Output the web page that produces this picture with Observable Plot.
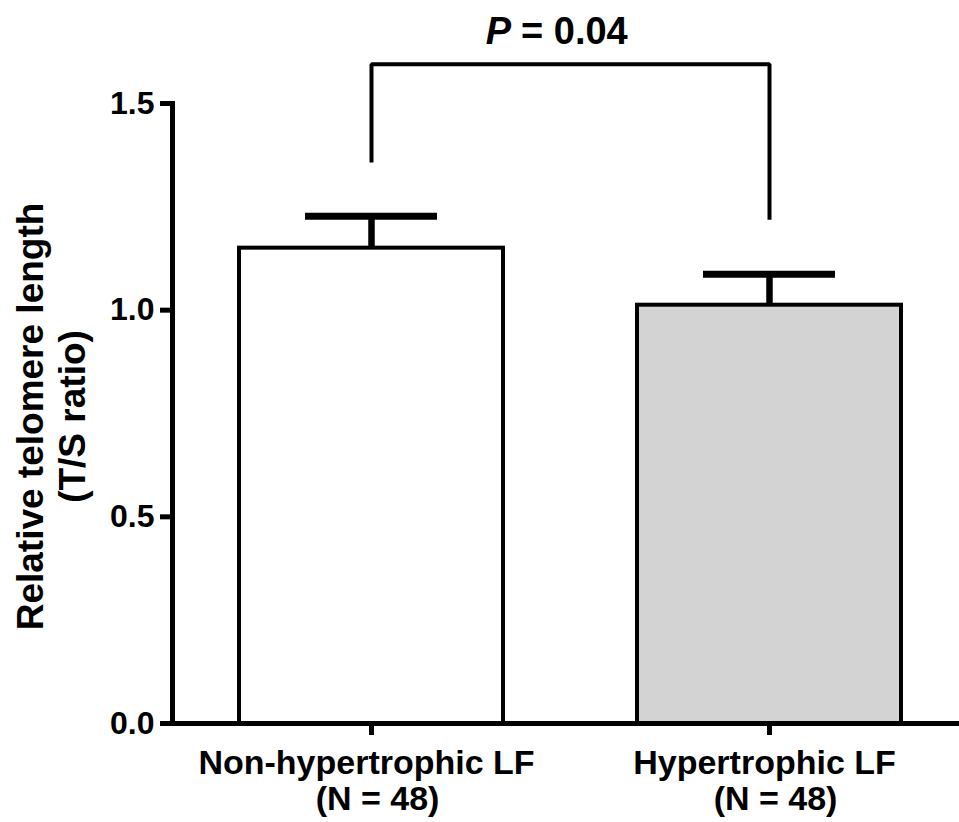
<!DOCTYPE html>
<html>
<head>
<meta charset="utf-8">
<script src="https://cdn.jsdelivr.net/npm/d3@7"></script>
<script src="https://cdn.jsdelivr.net/npm/@observablehq/plot@0.6"></script>
<style>
  html, body { margin: 0; padding: 0; background: #fff; }
  svg { display: block; }
</style>
</head>
<body>
<div id="chart"></div>
<script>
const groups = ["Non-hypertrophic LF", "Hypertrophic LF"];
const groupN = ["(N = 48)", "(N = 48)"];
const means = [1.15, 1.012];
const upper = [1.227, 1.087];
const fills = ["#ffffff", "#d3d3d3"];
const yTicks = [0, 0.5, 1.0, 1.5];
const bracketX = [groups[0], groups[0], groups[1], groups[1]];
const bracketY = [1.357, 1.595, 1.595, 1.219];
const pValueText = "= 0.04";
const pValueY = 1.645;
const yLabel1 = "Relative telomere length";
const yLabel2 = "(T/S ratio)";

const bars = groups.map((g, i) => ({group: g, mean: means[i], upper: upper[i], fill: fills[i], n: groupN[i]}));
const bracket = bracketX.map((x, i) => ({x, y: bracketY[i]}));

const font = "'Liberation Sans', Arial, Helvetica, sans-serif";

const chart = Plot.plot({
  width: 959,
  height: 822,
  marginLeft: 172,
  marginRight: 0,
  marginTop: 103,
  marginBottom: 99,
  style: {fontFamily: font, fontWeight: "bold", color: "#000", background: "#fff", overflow: "visible"},
  x: {domain: groups, paddingInner: 0.337, paddingOuter: 0.157, align: 0.536, axis: null},
  y: {domain: [0, 1.5], axis: null},
  marks: [
    Plot.barY(bars, {x: "group", y: "mean", fill: "fill", stroke: "#000", strokeWidth: 4}),
    Plot.ruleX(bars, {x: "group", y1: "mean", y2: "upper", stroke: "#000", strokeWidth: 6.5}),
    Plot.tickY(bars, {x: "group", y: "upper", stroke: "#000", strokeWidth: 7, insetLeft: 66, insetRight: 66}),
    Plot.line(bracket, {x: "x", y: "y", stroke: "#000", strokeWidth: 4, strokeLinejoin: "miter", strokeLinecap: "butt"}),
    // Axes
    Plot.ruleY([0], {stroke: "#000", strokeWidth: 5}),
    Plot.frame({anchor: "left", stroke: "#000", strokeWidth: 5}),
    Plot.axisY({ticks: yTicks, tickFormat: d3.format(".1f"), tickSize: 12, tickPadding: 6, strokeWidth: 5, fontSize: 32, fontWeight: "bold", label: null}),
    Plot.axisX({tickSize: 12, strokeWidth: 5, tickFormat: () => "", label: null}),
    Plot.text(bars, {x: "group", y: 0, text: "group", dy: 26, dx: -5, lineAnchor: "top", fontSize: 34, fontWeight: "bold", fill: "#000"}),
    Plot.text(bars, {x: "group", y: 0, text: "n", dy: 62, dx: 6, lineAnchor: "top", fontSize: 34, fontWeight: "bold", fill: "#000"}),
    // y label
    Plot.text([yLabel1], {frameAnchor: "left", text: d => d, rotate: -90, dx: -156, dy: 3, lineAnchor: "top", textAnchor: "middle", fontSize: 37, fontWeight: "bold", fill: "#000"}),
    Plot.text([yLabel2], {frameAnchor: "left", text: d => d, rotate: -90, dx: -114, dy: 3, lineAnchor: "top", textAnchor: "middle", fontSize: 37, fontWeight: "bold", fill: "#000"}),
    // P value
    Plot.text(["P"], {y: () => pValueY, text: d => d, dx: -55, textAnchor: "end", lineAnchor: "bottom", fontSize: 38, fontWeight: "bold", fontStyle: "italic", fill: "#000"}),
    Plot.text([pValueText], {y: () => pValueY, text: d => d, dx: -45, textAnchor: "start", lineAnchor: "bottom", fontSize: 38, fontWeight: "bold", fill: "#000"})
  ]
});
document.getElementById("chart").appendChild(chart);
</script>
</body>
</html>
